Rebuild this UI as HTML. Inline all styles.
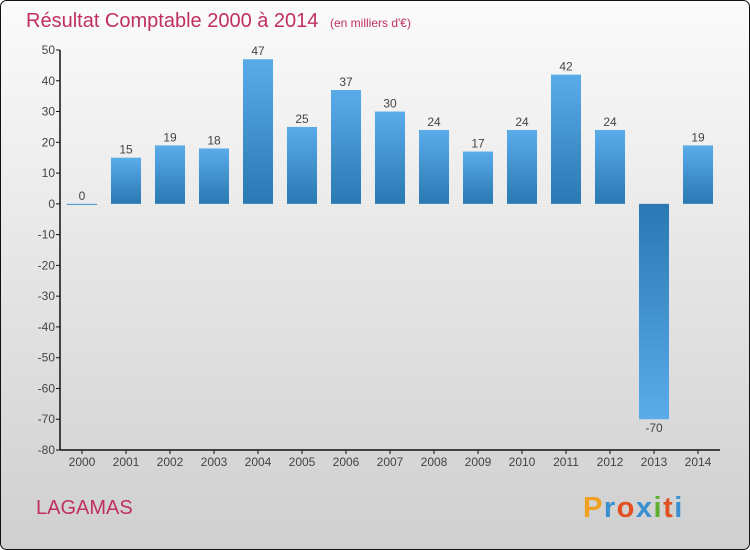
<!DOCTYPE html>
<html><head><meta charset="utf-8"><style>
html,body{margin:0;padding:0;width:750px;height:550px;overflow:hidden;font-family:"Liberation Sans",sans-serif}
</style></head><body>
<svg id="chart" width="750" height="550" xmlns="http://www.w3.org/2000/svg">
<defs>
<linearGradient id="bg" x1="0" y1="0" x2="0" y2="1"><stop offset="0" stop-color="#fbfbfb"/><stop offset="1" stop-color="#cfcfcf"/></linearGradient>
<linearGradient id="pos" x1="0" y1="0" x2="0" y2="1"><stop offset="0" stop-color="#5aace8"/><stop offset="1" stop-color="#2a78b4"/></linearGradient>
<linearGradient id="neg" x1="0" y1="0" x2="0" y2="1"><stop offset="0" stop-color="#2a78b4"/><stop offset="1" stop-color="#5aace8"/></linearGradient>
</defs>
<rect x="0.5" y="0.5" width="749" height="549" rx="6" fill="url(#bg)" stroke="#111"/>
<text x="26" y="27" font-size="20" fill="#c0305e">Résultat Comptable 2000 à 2014 <tspan font-size="12" dx="6">(en milliers d'€)</tspan></text>
<g id="bars"></g>
<g id="axes"></g>
<text x="36" y="514" font-size="20" fill="#c0305e">LAGAMAS</text>
<g font-size="29" font-weight="bold">
<text x="583" y="517" letter-spacing="1.5"><tspan fill="#f0a020">P</tspan><tspan fill="#3a8fd0">r</tspan><tspan fill="#e05020">o</tspan><tspan fill="#3a8fd0">x</tspan><tspan fill="#60b030">i</tspan><tspan fill="#e05020">t</tspan><tspan fill="#3a8fd0">i</tspan></text>
</g>
</svg>
<script>
const categories=["2000","2001","2002","2003","2004","2005","2006","2007","2008","2009","2010","2011","2012","2013","2014"];
const values=[0,15,19,18,47,25,37,30,24,17,24,42,24,-70,19];
const yTicks=[50,40,30,20,10,0,-10,-20,-30,-40,-50,-60,-70,-80];
const NS="http://www.w3.org/2000/svg";
const L=60,R=720,T=50,B=450,yMax=50,yMin=-80;
const y=v=>T+(yMax-v)/(yMax-yMin)*(B-T);
const step=(R-L)/categories.length;
const x=i=>L+step*(i+0.5);
function mk(tag,attrs,parent){const e=document.createElementNS(NS,tag);for(const k in attrs)e.setAttribute(k,attrs[k]);parent.appendChild(e);return e;}
const bars=document.getElementById('bars'),axes=document.getElementById('axes');
const bw=30;
values.forEach((v,i)=>{
  const y0=y(0),y1=y(v);
  const h=Math.max(Math.abs(y1-y0),1);
  const r=mk('rect',{x:x(i)-bw/2,y:Math.min(y0,y1),width:bw,height:h,fill:v<0?'url(#neg)':'url(#pos)'},bars);
  
  
  const t=mk('text',{x:x(i),y:v<0?y1+13:y1-4,'text-anchor':'middle','font-size':12,fill:'#444'},bars);
  t.textContent=v;
  
  
});
const ya=mk('line',{x1:L,y1:T,x2:L,y2:B,stroke:'#111','stroke-width':1.5},axes);


const xa=mk('line',{x1:L,y1:B,x2:R,y2:B,stroke:'#111','stroke-width':1.5},axes);


yTicks.forEach(v=>{
  mk('line',{x1:L-4,y1:y(v),x2:L,y2:y(v),stroke:'#111'},axes);
  const t=mk('text',{x:L-5,y:y(v)+4,'text-anchor':'end','font-size':12,fill:'#444'},axes);
  t.textContent=v;
  
  
});
categories.forEach((c,i)=>{
  mk('line',{x1:x(i),y1:B,x2:x(i),y2:B+4,stroke:'#111'},axes);
  const t=mk('text',{x:x(i),y:B+16,'text-anchor':'middle','font-size':12,fill:'#444'},axes);
  t.textContent=c;
  
  
});
</script>
</body></html>
